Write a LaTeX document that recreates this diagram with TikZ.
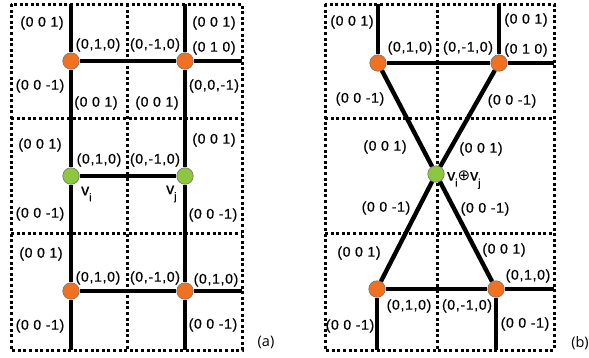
\documentclass[tikz,border=0pt]{standalone}
\usepackage{fontspec}
\newfontfamily\labfont[LetterSpace=5,FakeBold=0.6]{Liberation Sans}
\newfontfamily\capfont{Open Sans}
\newfontfamily\djfont{DejaVu Sans}
\definecolor{orng}{RGB}{242,113,33}
\definecolor{grn}{RGB}{141,198,63}
\begin{document}
\begin{tikzpicture}[x=1pt,y=-1pt,
  gridline/.style={line width=3pt,dash pattern=on 3pt off 2.6pt},
  bar/.style={line width=4pt},
  hbar/.style={line width=3.4pt},
  onode/.style={circle,fill=orng,draw=black!55,line width=0.6pt,minimum size=16.5pt,inner sep=0pt},
  gnode/.style={circle,fill=grn,draw=black!55,line width=0.6pt,minimum size=16.5pt,inner sep=0pt},
  lab/.style={font=\labfont\fontsize{14}{14}\selectfont,inner sep=0pt},
  capl/.style={font=\capfont\fontsize{14.5}{14.5}\selectfont,inner sep=0pt}]
\useasboundingbox (0,0) rectangle (589,357);
% ---------- panel (a) grid
\draw[gridline] (11,4) rectangle (242,350);
\draw[gridline] (127,4) -- (127,350);
\draw[gridline] (11,118) -- (242,118);
\draw[gridline] (11,233) -- (242,233);
% ---------- panel (b) grid
\draw[gridline] (325,4) rectangle (554,350);
\draw[gridline] (437.5,4) -- (437.5,350);
\draw[gridline] (325,118) -- (554,118);
\draw[gridline] (325,233) -- (554,233);
% ---------- panel (a) nodes
\node[onode] (a1) at (71,61) {};
\node[onode] (a2) at (185,61) {};
\node[gnode] (a3) at (71,176) {};
\node[gnode] (a4) at (185,176) {};
\node[onode] (a5) at (71,291) {};
\node[onode] (a6) at (185,291) {};
\coordinate (at1) at (71,4);
\coordinate (at2) at (185,4);
\coordinate (ab1) at (71,350);
\coordinate (ab2) at (185,350);
\coordinate (ar1) at (242,61);
\coordinate (ar2) at (242,291);
\draw[bar] (at1) -- (a1); \draw[bar] (a1) -- (a3); \draw[bar] (a3) -- (a5); \draw[bar] (a5) -- (ab1);
\draw[bar] (at2) -- (a2); \draw[bar] (a2) -- (a4); \draw[bar] (a4) -- (a6); \draw[bar] (a6) -- (ab2);
\draw[line width=4.4pt] (a1) -- (a2); \draw[line width=4.4pt] (a2) -- (ar1);
\draw[hbar] (a3) -- (a4);
\draw[hbar] (a5) -- (a6); \draw[hbar] (a6) -- (ar2);
% ---------- panel (b) nodes
\node[onode] (b1) at (378,63) {};
\node[onode] (b2) at (499,63) {};
\node[gnode] (b3) at (436,174) {};
\node[onode] (b4) at (377,289) {};
\node[onode] (b5) at (496,289) {};
\coordinate (bt1) at (378,4);
\coordinate (bt2) at (499,4);
\coordinate (bb1) at (377,350);
\coordinate (bb2) at (496,350);
\coordinate (br1) at (554,63);
\coordinate (br2) at (554,289);
\draw[bar] (bt1) -- (b1); \draw[bar] (bt2) -- (b2);
\draw[line width=4.4pt] (b1) -- (b2); \draw[line width=4.4pt] (b2) -- (br1);
\draw[line width=4.4pt] (b1) -- (b3); \draw[line width=4.4pt] (b2) -- (b3);
\draw[line width=4.4pt] (b3) -- (b4); \draw[line width=4.4pt] (b3) -- (b5);
\draw[hbar] (b4) -- (b5); \draw[hbar] (b5) -- (br2);
\draw[bar] (b4) -- (bb1); \draw[bar] (b5) -- (bb2);
% ---------- panel (a) labels
\node[lab] (la1) at (42,23) {(0 0 1)};
\node[lab] (la2) at (98,45) {(0,1,0)};
\node[lab] (la3) at (155,45) {(0,-1,0)};
\node[lab] (la4) at (214,23) {(0 0 1)};
\node[lab] (la5) at (214,48) {(0 1 0)};
\node[lab] (la6) at (40,86) {(0 0 -1)};
\node[lab] (la7) at (214,86) {(0,0,-1)};
\node[lab] (la8) at (96,103) {(0 0 1)};
\node[lab] (la9) at (157,103) {(0 0 1)};
\node[lab] (la10) at (40,145) {(0 0 1)};
\node[lab] (la11) at (214,140) {(0 0 1)};
\node[lab] (la12) at (99,160) {(0,1,0)};
\node[lab] (la13) at (155,160) {(0,-1,0)};
\node[lab,anchor=west] (lvi) at (81,194) {\fontsize{16}{16}\selectfont v\raisebox{-6pt}{\fontsize{11}{11}\selectfont i}};
\node[lab,anchor=west] (lvj) at (166,194) {\fontsize{16}{16}\selectfont v\raisebox{-6pt}{\fontsize{11}{11}\selectfont j}};
\node[lab] (la14) at (40,214) {(0 0 -1)};
\node[lab] (la15) at (213,215) {(0 0 -1)};
\node[lab] (la16) at (41,254) {(0 0 1)};
\node[lab] (la17) at (98,278) {(0,1,0)};
\node[lab] (la18) at (155,278) {(0,-1,0)};
\node[lab] (la19) at (216,280) {(0,1,0)};
\node[lab] (la20) at (40,326) {(0 0 -1)};
\node[lab] (la21) at (213,325) {(0 0 -1)};
\node[capl] (capa) at (266,342) {(a)};
% ---------- panel (b) labels
\node[lab] (lb1) at (352,22) {(0 0 1)};
\node[lab] (lb2) at (410,48) {(0,1,0)};
\node[lab] (lb3) at (468,48) {(0,-1,0)};
\node[lab] (lb4) at (526,20) {(0 0 1)};
\node[lab] (lb5) at (526,50) {(0 1 0)};
\node[lab] (lb6) at (360,99) {(0 0 -1)};
\node[lab] (lb7) at (512,101) {(0 0 -1)};
\node[lab] (lb8) at (385,147) {(0 0 1)};
\node[lab] (lb9) at (481,149) {(0 0 1)};
\node[lab,anchor=west] (lvv) at (447,180) {\fontsize{16}{16}\selectfont v\raisebox{-6pt}{\fontsize{11}{11}\selectfont i}{\djfont\fontsize{15}{15}\selectfont ⊕}v\raisebox{-6pt}{\fontsize{11}{11}\selectfont j}};
\node[lab] (lb10) at (386,208) {(0 0 -1)};
\node[lab] (lb11) at (485,209) {(0 0 -1)};
\node[lab] (lb12) at (359,253) {(0 0 1)};
\node[lab] (lb13) at (504,250) {(0 0 1)};
\node[lab] (lb14) at (528,276) {(0,1,0)};
\node[lab] (lb15) at (409,306) {(0,1,0)};
\node[lab] (lb16) at (467,306) {(0,-1,0)};
\node[lab] (lb17) at (350,326) {(0 0 -1)};
\node[lab] (lb18) at (525,324) {(0 0 -1)};
\node[capl] (capb) at (580,343) {(b)};
\end{tikzpicture}
\end{document}
